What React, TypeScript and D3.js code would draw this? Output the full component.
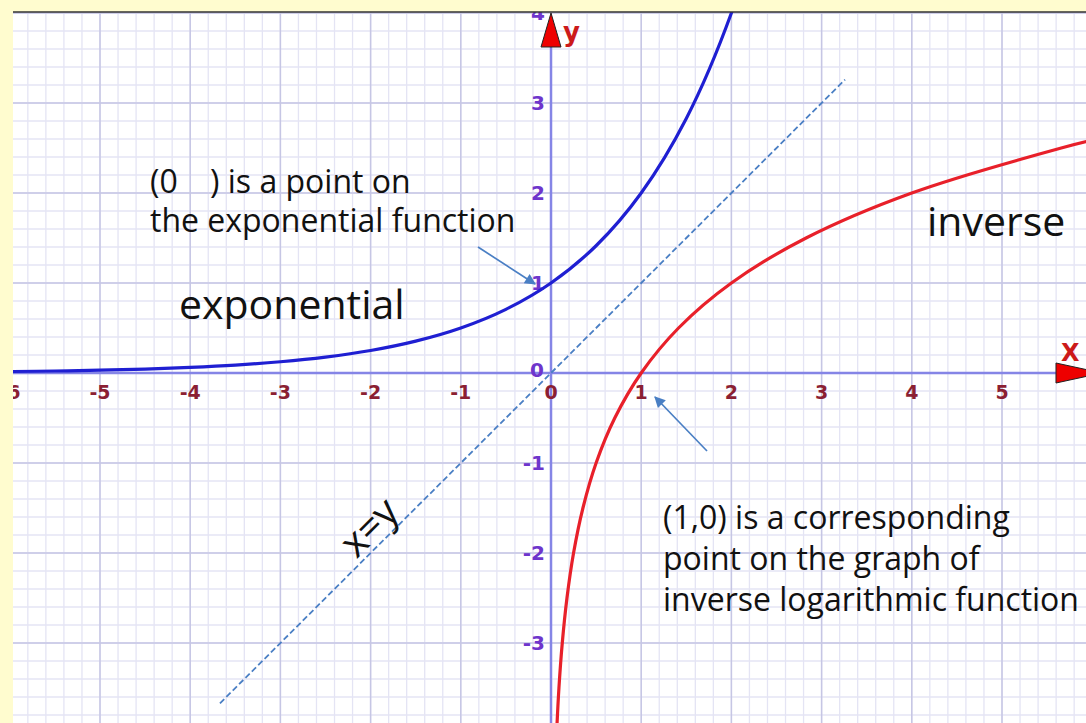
import React from "react";
import * as d3 from "d3";

const W = 1086;
const H = 723;

// exponential y = 2^x sample points
const expX = [-6, -5.5, -5, -4.5, -4, -3.5, -3, -2.5, -2, -1.5, -1, -0.5, 0, 0.5, 1, 1.5, 2, 2.5, 2.6];
const expY = [0.016, 0.022, 0.031, 0.044, 0.0625, 0.088, 0.125, 0.177, 0.25, 0.354, 0.5, 0.707, 1, 1.414, 2, 2.828, 4, 5.657, 6.06];

// inverse (logarithmic) is the reflection: swap coordinates
const invX = expY;
const invY = expX;

const diagEnds = [-3.67, 3.26];

const xTicks = [-6, -5, -4, -3, -2, -1, 0, 1, 2, 3, 4, 5];
const yTicks = [-3, -2, -1, 1, 2, 3, 4];

const xLabelColor = "#8b1f33";
const yLabelColor = "#6e35cc";
const noteColor = "#4a7fc4";

export default function App() {
  const x = d3.scaleLinear().domain([-6, 6]).range([9.8, 1092.2]);
  const y = d3.scaleLinear().domain([-4, 4]).range([733, 13]);

  const minorX = d3.range(-30, 31).map((i) => i / 5);
  const minorY = d3.range(-20, 21).map((i) => i / 5);
  const majorX = d3.range(-6, 7);
  const majorY = d3.range(-4, 5);

  const line = d3
    .line<[number, number]>()
    .x((d) => x(d[0]))
    .y((d) => y(d[1]))
    .curve(d3.curveCatmullRom.alpha(0.5));

  const expPath = line(expX.map((v, i) => [v, expY[i]] as [number, number])) || "";
  const invPath = line(invX.map((v, i) => [v, invY[i]] as [number, number])) || "";

  const left = 13;
  const top = 12;

  const textFont = "'Open Sans', sans-serif";
  const tickFont = "'DejaVu Sans', sans-serif";

  return (
    <svg
      width={W}
      height={H}
      style={{ position: "absolute", left: 0, top: 0, display: "block" }}
    >
      <defs>
        <clipPath id="plot">
          <rect x={left} y={top} width={W - left} height={H - top} />
        </clipPath>
        <marker
          id="ah"
          viewBox="0 0 10 10"
          refX="9"
          refY="5"
          markerWidth="14"
          markerHeight="11"
          markerUnits="userSpaceOnUse"
          orient="auto"
        >
          <path d="M0,0 L10,5 L0,10 z" fill={noteColor} />
        </marker>
      </defs>
      <rect x={0} y={0} width={W} height={H} fill="#fffccf" />
      <rect x={left} y={top} width={W - left} height={H - top} fill="#ffffff" />
      <g clipPath="url(#plot)">
        {minorX.map((v) => (
          <line key={"mx" + v} x1={x(v)} x2={x(v)} y1={top} y2={H} stroke="#e4e4f4" strokeWidth={1.3} />
        ))}
        {minorY.map((v) => (
          <line key={"my" + v} y1={y(v)} y2={y(v)} x1={left} x2={W} stroke="#e4e4f4" strokeWidth={1.3} />
        ))}
        {majorX.map((v) => (
          <line key={"Mx" + v} x1={x(v)} x2={x(v)} y1={top} y2={H} stroke="#c6c6e4" strokeWidth={1.5} />
        ))}
        {majorY.map((v) => (
          <line key={"My" + v} y1={y(v)} y2={y(v)} x1={left} x2={W} stroke="#c6c6e4" strokeWidth={1.5} />
        ))}
        {/* axes */}
        <line x1={left} x2={1060} y1={y(0)} y2={y(0)} stroke="#8585e6" strokeWidth={2.5} />
        <line x1={x(0)} x2={x(0)} y1={45} y2={H} stroke="#8585e6" strokeWidth={2.5} />

        {/* tick labels */}
        {xTicks.map((v) => (
          <text
            key={"xt" + v}
            x={x(v)}
            y={y(0) + 26}
            textAnchor="middle"
            fontFamily={tickFont}
            fontWeight="bold"
            fontSize={19}
            fill={xLabelColor}
          >
            {v}
          </text>
        ))}
        {yTicks.map((v) => (
          <text
            key={"yt" + v}
            x={x(0) - 6}
            y={y(v) + 7}
            textAnchor="end"
            fontFamily={tickFont}
            fontWeight="bold"
            fontSize={20}
            fill={yLabelColor}
          >
            {v}
          </text>
        ))}
        <text
          x={x(0) - 7}
          y={y(0) + 4}
          textAnchor="end"
          fontFamily={tickFont}
          fontWeight="bold"
          fontSize={20}
          fill={yLabelColor}
        >
          0
        </text>

        {/* diagonal x=y */}
        <line
          x1={x(diagEnds[0])}
          y1={y(diagEnds[0])}
          x2={x(diagEnds[1])}
          y2={y(diagEnds[1])}
          stroke={noteColor}
          strokeWidth={1.8}
          strokeDasharray="6 3"
        />

        {/* curves */}
        <path d={expPath} fill="none" stroke="#1f1fd2" strokeWidth={3.2} />
        <path d={invPath} fill="none" stroke="#e8202a" strokeWidth={3.2} />

        {/* axis arrows */}
        <polygon
          points={`${x(0)},${top + 1} ${x(0) - 10},47 ${x(0) + 10},47`}
          fill="#ee0000"
          stroke="#222"
          strokeWidth={1}
        />
        <polygon
          points={`1056,363 1056,383 1102,${y(0)}`}
          fill="#ee0000"
          stroke="#222"
          strokeWidth={1}
        />
        <text x={563} y={41} fontFamily={tickFont} fontWeight="bold" fontSize={26} fill="#cc1a1a">
          y
        </text>
        <text x={1061} y={361} fontFamily={tickFont} fontWeight="bold" fontSize={24} fill="#cc1a1a">
          X
        </text>

        {/* annotation arrows */}
        <line x1={478} y1={247} x2={535} y2={284} stroke={noteColor} strokeWidth={1.7} markerEnd="url(#ah)" />
        <line x1={707} y1={451} x2={655} y2={397} stroke={noteColor} strokeWidth={1.7} markerEnd="url(#ah)" />

        {/* annotation texts */}
        <g fontFamily={textFont} fill="#111">
          <text x={150} y={193} fontSize={32}>
            (0
          </text>
          <text x={210} y={193} fontSize={32}>
            ) is a point on
          </text>
          <text x={150} y={232} fontSize={32}>
            the exponential function
          </text>
          <text x={179} y={319} fontSize={41}>
            exponential
          </text>
          <text x={927} y={236} fontSize={41}>
            inverse
          </text>
          <text
            x={368}
            y={526}
            fontSize={40}
            textAnchor="middle"
            dominantBaseline="central"
            transform="rotate(-45 368 526)"
          >
            x=y
          </text>
          <text x={663} y={529} fontSize={32}>
            (1,0) is a corresponding
          </text>
          <text x={663} y={570} fontSize={32}>
            point on the graph of
          </text>
          <text x={663} y={611} fontSize={32}>
            inverse logarithmic function
          </text>
        </g>
      </g>
      <line x1={left} x2={W} y1={top} y2={top} stroke="#333" strokeWidth={1.6} />
    </svg>
  );
}
